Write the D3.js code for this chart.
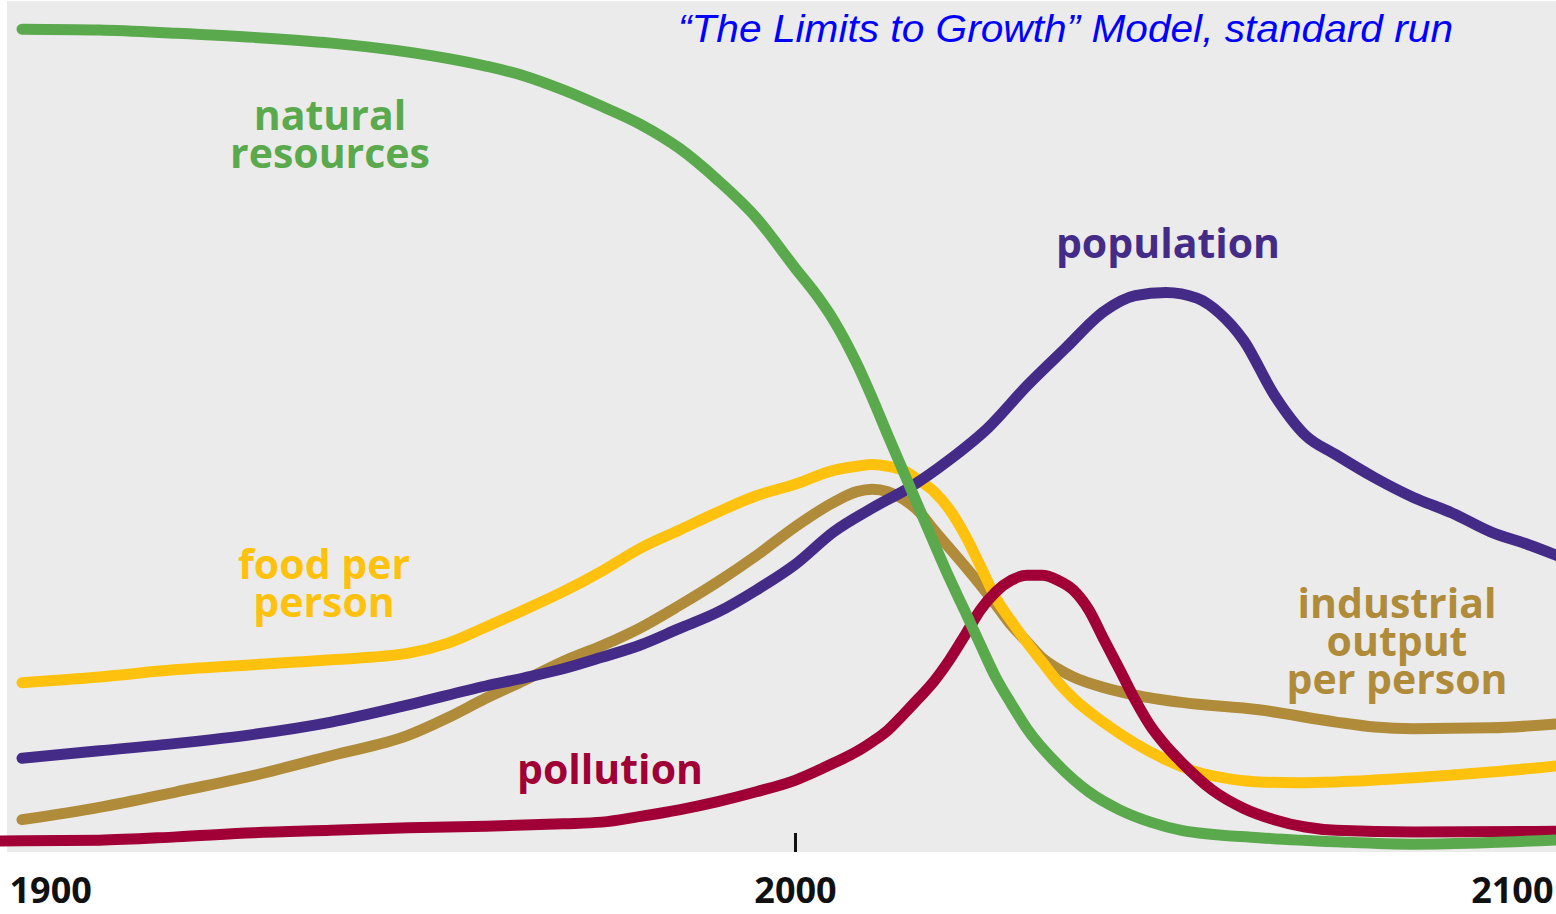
<!DOCTYPE html>
<html lang="en">
<head>
<meta charset="utf-8">
<title>The Limits to Growth - standard run</title>
<script src="https://cdnjs.cloudflare.com/ajax/libs/d3/7.8.5/d3.min.js"></script>
<style>
    html, body { margin: 0; padding: 0; background: #fff; }
    svg { display: block; }
    .lbl { font-family: "Open Sans", sans-serif; font-weight: 700; font-size: 41px; text-anchor: middle; }
    .axis text { font-family: "Open Sans", sans-serif; font-weight: 700; font-size: 36px; fill: #111; }
</style>
</head>
<body>
<script>
// values (relative scale 0..100)
var resourceYears  = [1900,1910,1920,1930,1940,1950,1960,1965,1970,1975,1980,1985,1990,1995,2000,2003,2005,2008,2010,2012,2014,2016,2018,2020,2022,2024,2026,2028,2030,2034,2038,2042,2046,2050,2060,2070,2080,2090,2100];
var resourceValues = [100.1,100,99.6,99.1,98.4,97.3,95.6,94.4,92.7,90.7,88.5,85.6,81.7,77.1,71.0,67.4,64.6,59.3,55.1,50.6,46.2,41.8,37.4,33.1,29.1,25,21,17.8,14.8,10.4,7.1,4.9,3.4,2.4,1.5,1.0,0.7,0.9,1.3];

var popYears  = [1900,1910,1920,1930,1940,1950,1960,1965,1970,1975,1980,1985,1990,1995,2000,2005,2010,2015,2020,2025,2030,2035,2040,2044,2048,2052,2055,2058,2062,2066,2070,2075,2080,2085,2090,2095,2100];
var popValues = [11.2,12.1,13.0,14.1,15.6,17.7,20,21,22.1,23.5,25,27,29,31.7,34.8,38.8,41.7,44.3,47.6,51.5,56.6,61.2,65.7,67.6,68,67.3,65.4,62.2,55.5,50.6,48.2,45.4,43,41.1,38.8,37.2,35.4];

var foodYears  = [1900,1910,1920,1930,1940,1950,1955,1960,1965,1970,1975,1980,1985,1990,1995,2000,2005,2008,2010,2012,2014,2016,2018,2020,2022,2024,2026,2028,2030,2032,2034,2036,2040,2044,2048,2052,2056,2060,2065,2070,2080,2090,2100];
var foodValues = [20.4,21.1,22,22.6,23.2,24,25.2,27.2,29.3,31.5,34,36.8,39,41.2,43.2,44.6,46.3,46.8,47,46.8,46.3,45.1,43.7,41.5,38.4,34.6,30.7,27.9,25.3,22.9,20.5,18.5,15.5,13,11,9.5,8.7,8.3,8.2,8.3,8.8,9.5,10.4];

var industryYears  = [1900,1910,1920,1930,1940,1950,1955,1960,1965,1970,1975,1980,1985,1990,1995,2000,2005,2008,2010,2012,2014,2016,2018,2020,2022,2024,2026,2028,2030,2032,2034,2036,2040,2044,2050,2060,2070,2075,2080,2090,2100];
var industryValues = [3.7,5.2,7.1,9.1,11.5,14,16.1,18.5,20.7,23,24.9,27.1,29.8,32.7,35.9,39.4,42.4,43.7,44,43.7,42.8,41.3,39,36.8,34.6,32.3,29.9,27.4,25.4,23.4,22.1,21.1,19.8,18.9,18,17.1,15.6,15,14.8,14.9,15.5];

var pollutionYears  = [1897,1910,1920,1930,1940,1950,1960,1970,1975,1980,1985,1990,1995,2000,2005,2008,2010,2012,2014,2016,2018,2020,2022,2024,2026,2028,2030,2032,2034,2036,2038,2040,2042,2044,2046,2048,2050,2054,2058,2062,2066,2070,2080,2100];
var pollutionValues = [1.1,1.2,1.6,2.1,2.4,2.7,2.9,3.2,3.4,4.1,4.9,5.9,7.1,8.5,10.6,12,13.2,14.6,16.5,18.5,20.6,23.2,26.2,29.3,31.5,32.9,33.5,33.5,32.9,31.7,29.3,25.6,22,18.3,15.1,12.7,10.7,7.3,5.1,3.7,2.8,2.4,2.2,2.3];

var tickYears = [1900, 2000, 2100];
var titleText = "\u201CThe Limits to Growth\u201D Model, standard run";

var width = 1556, height = 914;

var x = d3.scaleLinear().domain([1900, 2100]).range([22, 1568]);
var y = d3.scaleLinear().domain([0, 100]).range([850, 30]);

var svg = d3.select("body").append("svg")
    .attr("width", width).attr("height", height);

// grey panel
svg.append("rect")
    .attr("x", 7).attr("y", 1)
    .attr("width", width - 7).attr("height", 851)
    .attr("fill", "#ebebeb");

// 2000 tick + year labels
var axis = d3.axisBottom(x).tickValues(tickYears).tickFormat(d3.format("d"))
    .tickSizeInner(-19).tickSizeOuter(0).tickPadding(25);
var ax = svg.append("g").attr("class", "axis")
    .attr("transform", "translate(0,852)")
    .call(axis);
ax.select(".domain").remove();
ax.selectAll(".tick line")
    .attr("stroke", "#111").attr("stroke-width", 3)
    .attr("opacity", function(d) { return d == 2000 ? 1 : 0; });
ax.selectAll(".tick text")
    .attr("text-anchor", function(d) { return d == 1900 ? "start" : d == 2100 ? "end" : "middle"; })
    .attr("dx", function(d) { return d == 1900 ? -13 : d == 2100 ? -15 : 0; });

var line = d3.line()
    .x(function(d) { return x(d[0]); })
    .y(function(d) { return y(d[1]); })
    .curve(d3.curveMonotoneX);

var series = [
    {years: industryYears, values: industryValues, color: "#af8b3a"},
    {years: foodYears, values: foodValues, color: "#fec20e"},
    {years: popYears, values: popValues, color: "#452b88"},
    {years: pollutionYears, values: pollutionValues, color: "#a00036"},
    {years: resourceYears, values: resourceValues, color: "#5aa94d"}
];

svg.append("clipPath").attr("id", "clip")
    .append("rect").attr("x", 0).attr("y", 0).attr("width", width).attr("height", 852);

svg.append("g").attr("clip-path", "url(#clip)")
    .selectAll("path").data(series).enter().append("path")
    .attr("d", function(s) { return line(d3.zip(s.years, s.values)); })
    .attr("fill", "none")
    .attr("stroke", function(s) { return s.color; })
    .attr("stroke-width", 11)
    .attr("stroke-linecap", "round")
    .attr("stroke-linejoin", "round");

// curve labels
function label(lines, cx, y0, color) {
    var t = svg.append("text").attr("class", "lbl").attr("fill", color);
    lines.forEach(function(s, i) {
        t.append("tspan").attr("x", cx).attr("y", y0 + i * 38).text(s);
    });
}
label(["natural", "resources"], 330, 130, "#5aa94d");
label(["population"], 1168, 258, "#452b88");
label(["food per", "person"], 324, 579, "#fec20e");
label(["pollution"], 610, 784, "#a00036");
label(["industrial", "output", "per person"], 1397, 618, "#af8b3a");

// title
svg.append("text")
    .attr("x", 678).attr("y", 42)
    .attr("font-family", "'Liberation Sans', Arial, sans-serif")
    .attr("font-style", "italic")
    .attr("font-size", 39)
    .attr("fill", "#0000ff")
    .attr("textLength", 775)
    .attr("lengthAdjust", "spacingAndGlyphs")
    .text(titleText);
</script>
</body>
</html>
